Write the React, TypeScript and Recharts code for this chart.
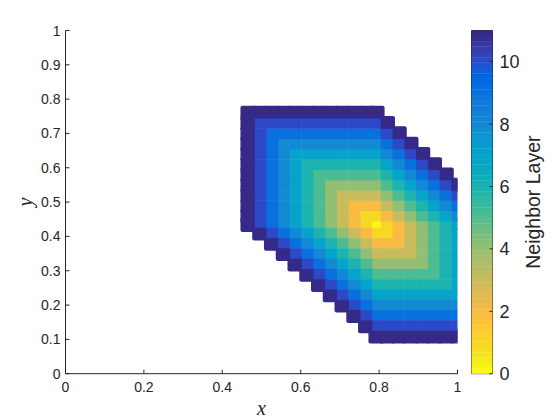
import React from 'react';
import {
  ScatterChart, Scatter, XAxis, YAxis, ReferenceArea,
} from 'recharts';

const W = 560;
const H = 420;
const PLOT = { left: 65.5, right: 457.5, top: 30.5, bottom: 373.7 };
const BAR = { left: 471.5, right: 492.5 };
const INK = '#262626';

const xTicks = [0, 0.2, 0.4, 0.6, 0.8, 1];
const yTicks = [0, 0.1, 0.2, 0.3, 0.4, 0.5, 0.6, 0.7, 0.8, 0.9, 1];
const barTicks = [0, 2, 4, 6, 8, 10];

// cell centres of the neighbour-layer grid, in data units
const xCentres = [0.4669, 0.4969, 0.5269, 0.5569, 0.5869, 0.6169, 0.6469, 0.6769, 0.7069, 0.7369, 0.7669, 0.7934, 0.8199, 0.8499, 0.8799, 0.9099, 0.9399, 0.9699, 0.9999];
const yCentres = [0.7593, 0.7293, 0.6993, 0.6693, 0.6393, 0.6093, 0.5793, 0.5493, 0.5193, 0.4893, 0.4593, 0.4344, 0.4095, 0.3795, 0.3495, 0.3195, 0.2895, 0.2595, 0.2295, 0.1995, 0.1695, 0.1395, 0.1095];

const _ = null;
// one row per y centre, one column per x centre
const layerRows: (number | null)[][] = [
  [11, 11, 11, 11, 11, 11, 11, 11, 11, 11, 11, 11, _, _, _, _, _, _, _],
  [11, 10, 10, 10, 10, 10, 10, 10, 10, 10, 10, 10, 11, _, _, _, _, _, _],
  [11, 10, 9, 9, 9, 9, 9, 9, 9, 9, 9, 9, 10, 11, _, _, _, _, _],
  [11, 10, 9, 8, 8, 8, 8, 8, 8, 8, 8, 8, 9, 10, 11, _, _, _, _],
  [11, 10, 9, 8, 7, 7, 7, 7, 7, 7, 7, 7, 8, 9, 10, 11, _, _, _],
  [11, 10, 9, 8, 7, 6, 6, 6, 6, 6, 6, 6, 7, 8, 9, 10, 11, _, _],
  [11, 10, 9, 8, 7, 6, 5, 5, 5, 5, 5, 5, 6, 7, 8, 9, 10, 11, _],
  [11, 10, 9, 8, 7, 6, 5, 4, 4, 4, 4, 4, 5, 6, 7, 8, 9, 10, 11],
  [11, 10, 9, 8, 7, 6, 5, 4, 3, 3, 3, 3, 4, 5, 6, 7, 8, 9, 10],
  [11, 10, 9, 8, 7, 6, 5, 4, 3, 2, 2, 2, 3, 4, 5, 6, 7, 8, 9],
  [11, 10, 9, 8, 7, 6, 5, 4, 3, 2, 1, 1, 2, 3, 4, 5, 6, 7, 8],
  [11, 10, 9, 8, 7, 6, 5, 4, 3, 2, 1, 0, 1, 2, 3, 4, 5, 6, 7],
  [_, 11, 10, 9, 8, 7, 6, 5, 4, 3, 2, 1, 1, 2, 3, 4, 5, 6, 7],
  [_, _, 11, 10, 9, 8, 7, 6, 5, 4, 3, 2, 2, 2, 3, 4, 5, 6, 7],
  [_, _, _, 11, 10, 9, 8, 7, 6, 5, 4, 3, 3, 3, 3, 4, 5, 6, 7],
  [_, _, _, _, 11, 10, 9, 8, 7, 6, 5, 4, 4, 4, 4, 4, 5, 6, 7],
  [_, _, _, _, _, 11, 10, 9, 8, 7, 6, 5, 5, 5, 5, 5, 5, 6, 7],
  [_, _, _, _, _, _, 11, 10, 9, 8, 7, 6, 6, 6, 6, 6, 6, 6, 7],
  [_, _, _, _, _, _, _, 11, 10, 9, 8, 7, 7, 7, 7, 7, 7, 7, 7],
  [_, _, _, _, _, _, _, _, 11, 10, 9, 8, 8, 8, 8, 8, 8, 8, 8],
  [_, _, _, _, _, _, _, _, _, 11, 10, 9, 9, 9, 9, 9, 9, 9, 9],
  [_, _, _, _, _, _, _, _, _, _, 11, 10, 10, 10, 10, 10, 10, 10, 10],
  [_, _, _, _, _, _, _, _, _, _, _, 11, 11, 11, 11, 11, 11, 11, 11],
];

const colormap = [
  [0.2081, 0.1663, 0.5292], [0.2116, 0.1898, 0.5777], [0.2123, 0.2138, 0.627], [0.2081, 0.2386, 0.6771],
  [0.1959, 0.2645, 0.7279], [0.1707, 0.2919, 0.7792], [0.1253, 0.3242, 0.8303], [0.0591, 0.3598, 0.8683],
  [0.0117, 0.3875, 0.882], [0.006, 0.4086, 0.8828], [0.0165, 0.4266, 0.8786], [0.0329, 0.443, 0.872],
  [0.0498, 0.4586, 0.8641], [0.0629, 0.4737, 0.8554], [0.0723, 0.4887, 0.8467], [0.0779, 0.504, 0.8384],
  [0.0793, 0.52, 0.8312], [0.0749, 0.5375, 0.8263], [0.0641, 0.557, 0.824], [0.0488, 0.5772, 0.8228],
  [0.0343, 0.5966, 0.8199], [0.0265, 0.6137, 0.8135], [0.0239, 0.6287, 0.8038], [0.0231, 0.6418, 0.7913],
  [0.0228, 0.6535, 0.7768], [0.0267, 0.6642, 0.7607], [0.0384, 0.6743, 0.7436], [0.059, 0.6838, 0.7254],
  [0.0843, 0.6928, 0.7062], [0.1133, 0.7015, 0.6859], [0.1453, 0.7098, 0.6646], [0.1801, 0.7177, 0.6424],
  [0.2178, 0.725, 0.6193], [0.2586, 0.7317, 0.5954], [0.3022, 0.7376, 0.5712], [0.3482, 0.7424, 0.5473],
  [0.3953, 0.7459, 0.5244], [0.442, 0.7481, 0.5033], [0.4871, 0.7491, 0.484], [0.53, 0.7491, 0.4661],
  [0.5709, 0.7485, 0.4494], [0.6099, 0.7473, 0.4337], [0.6473, 0.7456, 0.4188], [0.6834, 0.7435, 0.4044],
  [0.7184, 0.7411, 0.3905], [0.7525, 0.7384, 0.3768], [0.7858, 0.7356, 0.3633], [0.8185, 0.7327, 0.3498],
  [0.8507, 0.7299, 0.336], [0.8824, 0.7274, 0.3217], [0.9139, 0.7258, 0.3063], [0.945, 0.7261, 0.2886],
  [0.9739, 0.7314, 0.2666], [0.9938, 0.7455, 0.2403], [0.999, 0.7653, 0.2164], [0.9955, 0.7861, 0.1967],
  [0.988, 0.8066, 0.1794], [0.9789, 0.8271, 0.1633], [0.9697, 0.8481, 0.1475], [0.9626, 0.8705, 0.1309],
  [0.9589, 0.8949, 0.1132], [0.9598, 0.9218, 0.0948], [0.9661, 0.9514, 0.0755], [0.9763, 0.9831, 0.0538],
];
const css = (c: number[]) => `rgb(${c.map((v) => Math.round(v * 255)).join(',')})`;
const MAX_LAYER = 11;
const colourOf = (layer: number) =>
  css(colormap[Math.min(63, Math.floor((64 * (MAX_LAYER - layer)) / MAX_LAYER))]);

type Cell = { x: number; y: number; layer: number; order: number };
const cells: Cell[] = [];
layerRows.forEach((row, r) =>
  row.forEach((layer, c) => {
    if (layer !== null) {
      cells.push({ x: xCentres[c], y: yCentres[r], layer, order: Math.abs(r - 11) + Math.abs(c - 11) });
    }
  }),
);
cells.sort((a, b) => a.order - b.order);
const outerCells = cells.filter((d) => d.layer === MAX_LAYER);

// colour-bar levels: one point per colormap entry, middle of its band
const barLevels = colormap.map((c, i) => ({ x: 0.5, y: (MAX_LAYER * (63.5 - i)) / 64, colour: css(c) }));

const CELL_W = 0.03 * (PLOT.right - PLOT.left);
const CELL_H = 0.03 * (PLOT.bottom - PLOT.top);
const LEVEL_W = BAR.right - BAR.left;
const LEVEL_H = (PLOT.bottom - PLOT.top) / 64;

const CellMark = (grow: number, radius: number) => (props: any) => {
  const { cx, cy, payload } = props;
  const w = CELL_W + grow;
  const h = CELL_H + grow;
  return (
    <rect x={cx - w / 2} y={cy - h / 2} width={w} height={h} rx={radius} ry={radius} fill={colourOf(payload.layer)} />
  );
};
const LevelMark = (props: any) => {
  const { cx, cy, payload } = props;
  return <rect x={cx - LEVEL_W / 2} y={cy - LEVEL_H / 2 - 0.15} width={LEVEL_W} height={LEVEL_H + 0.3} fill={payload.colour} />;
};

const fontSans = '"Liberation Sans", Arial, sans-serif';

const BottomTick = (props: any) => {
  const { x, y, payload } = props;
  return (
    <g>
      <line x1={x} x2={x} y1={y} y2={y - 4} stroke={INK} strokeWidth={1} />
      <text x={x} y={y + 18} textAnchor="middle" fontFamily={fontSans} fontSize={14} fill={INK}>
        {String(payload.value)}
      </text>
    </g>
  );
};
const LeftTick = (props: any) => {
  const { x, y, payload } = props;
  return (
    <g>
      <line x1={x} x2={x + 4} y1={y} y2={y} stroke={INK} strokeWidth={1} />
      <text x={x - 5} y={y + 5} textAnchor="end" fontFamily={fontSans} fontSize={14} fill={INK}>
        {String(payload.value)}
      </text>
    </g>
  );
};
const BarTick = (props: any) => {
  const { x, y, payload } = props;
  return (
    <g>
      <line x1={x} x2={x - 3} y1={y} y2={y} stroke={INK} strokeWidth={1} />
      <text x={x + 7} y={y + 6.5} textAnchor="start" fontFamily={fontSans} fontSize={18} fill={INK}>
        {String(payload.value)}
      </text>
    </g>
  );
};

const mathLabel = { fontFamily: '"Liberation Serif", serif', fontStyle: 'italic', fontSize: 20, fill: INK };

export default function App() {
  return (
    <div style={{ position: 'absolute', left: 0, top: 0, width: W, height: H, background: '#fff' }}>
      <div style={{ position: 'absolute', left: 0, top: 0 }}>
        <ScatterChart
          width={W}
          height={H}
          margin={{ top: PLOT.top, right: W - PLOT.right, bottom: 0, left: 0 }}
        >
          <XAxis
            type="number"
            dataKey="x"
            domain={[0, 1]}
            ticks={xTicks}
            allowDataOverflow
            height={H - PLOT.bottom}
            tickLine={false}
            tickSize={0}
            tickMargin={0}
            stroke={INK}
            tick={<BottomTick />}
            interval={0}
            label={{ value: 'x', position: 'center', dy: 11, style: mathLabel }}
          />
          <YAxis
            type="number"
            dataKey="y"
            domain={[0, 1]}
            ticks={yTicks}
            allowDataOverflow
            width={PLOT.left}
            tickLine={false}
            tickSize={0}
            tickMargin={0}
            stroke={INK}
            tick={<LeftTick />}
            interval={0}
            label={{ value: 'y', position: 'center', angle: -90, dx: -8, style: mathLabel }}
          />
          <Scatter data={outerCells} isAnimationActive={false} shape={CellMark(4.4, 2)} />
          <Scatter data={cells} isAnimationActive={false} shape={CellMark(0.5, 0)} />
        </ScatterChart>
      </div>
      <div style={{ position: 'absolute', left: 0, top: 0 }}>
        <ScatterChart
          width={W}
          height={H}
          margin={{ top: PLOT.top, right: 0, bottom: H - PLOT.bottom, left: BAR.left }}
        >
          <XAxis type="number" dataKey="x" hide domain={[0, 1]} />
          <YAxis
            type="number"
            dataKey="y"
            orientation="right"
            domain={[0, MAX_LAYER]}
            ticks={barTicks}
            width={W - BAR.right}
            axisLine={false}
            tickLine={false}
            tickSize={0}
            tickMargin={0}
            tick={<BarTick />}
            interval={0}
            label={{
              value: 'Neighbor Layer',
              position: 'center',
              angle: -90,
              dx: 7,
              style: { fontFamily: fontSans, fontSize: 19.5, fill: INK },
            }}
          />
          <Scatter data={barLevels} isAnimationActive={false} shape={LevelMark} />
          <ReferenceArea x1={0} x2={1} y1={0} y2={MAX_LAYER} fill="none" stroke={INK} strokeWidth={1} />
        </ScatterChart>
      </div>
    </div>
  );
}
